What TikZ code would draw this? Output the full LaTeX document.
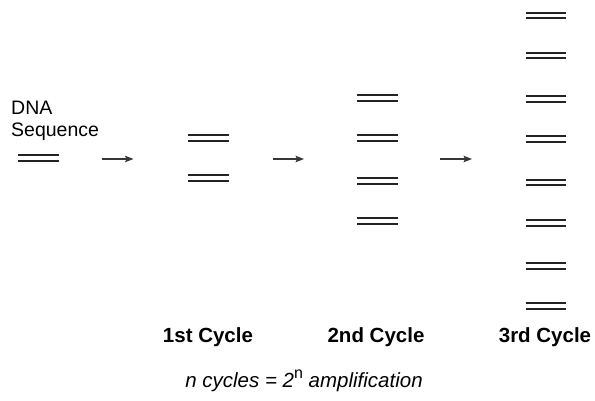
\documentclass[tikz,border=0pt]{standalone}
\usepackage{fontspec}
\setmainfont{Liberation Sans}
\usetikzlibrary{arrows.meta,positioning}
\definecolor{strandgray}{RGB}{35,35,35}
\definecolor{arrowgray}{RGB}{55,55,55}
\newcommand{\strandpair}[2]{\draw[strandgray,line width=1.9] (#1,#2-2.85) -- ++(40.5,0) (#1,#2+2.85) -- ++(40.5,0);}
\newcommand{\cyclelabel}[3]{\node[font=\bfseries\fontsize{20.5}{24}\selectfont,anchor=base] (#1) at (#2,342) {#3};}
\newcommand{\steparrow}[3]{\coordinate (#1s) at (#2,159); \coordinate (#1e) at (#3,159);
  \draw[arrowgray,line width=1.2,-{Stealth[length=8.5,width=6.5,inset=1.5]}] (#1s) -- (#1e);}

\begin{document}
\begin{tikzpicture}[x=1pt,y=-1pt]
		\useasboundingbox (0,0) rectangle (595,401);
		\node[font=\fontsize{19.5}{22}\selectfont,align=left,anchor=base west,inner sep=0] (dna) at (11,137) {DNA\\Sequence};
		\strandpair{18}{158}
		\steparrow{one}{102}{133.5}
		\strandpair{188}{138} \strandpair{188}{178}
		\steparrow{two}{273}{304}
		\strandpair{357}{98} \strandpair{357}{138} \strandpair{357}{181} \strandpair{357}{221}
		\steparrow{three}{440}{472}
		\strandpair{525.5}{15.5} \strandpair{525.5}{55.5} \strandpair{525.5}{99} \strandpair{525.5}{139}
		\strandpair{525.5}{182.5} \strandpair{525.5}{223} \strandpair{525.5}{266} \strandpair{525.5}{306}
		\cyclelabel{first}{208}{1st Cycle}\cyclelabel{second}{376}{2nd Cycle}\cyclelabel{third}{545}{3rd Cycle}
		\node[font=\itshape\fontsize{20.5}{24}\selectfont,anchor=base] (rule) at (304,387) {n cycles = 2\raisebox{0.42em}{\upshape\fontsize{16}{16}\selectfont n} amplification};
\end{tikzpicture}
\end{document}
